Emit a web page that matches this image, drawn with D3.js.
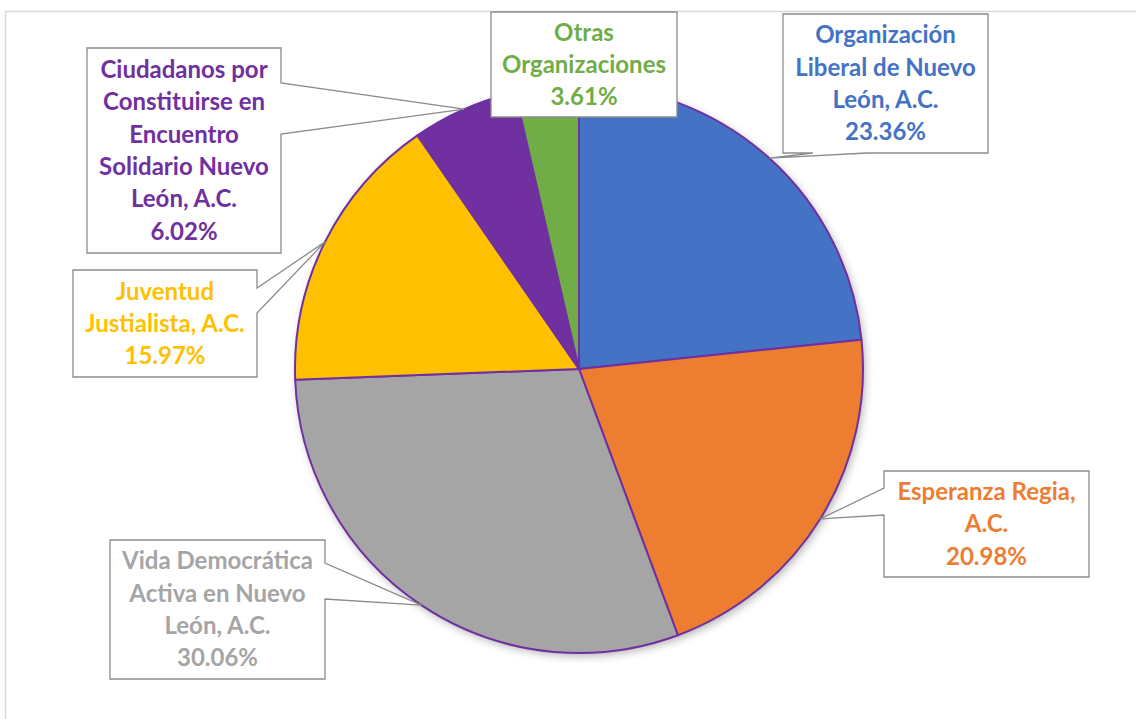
<!DOCTYPE html>
<html>
<head>
<meta charset="utf-8">
<script src="https://cdn.jsdelivr.net/npm/d3@7"></script>
<style>
  html, body { margin: 0; padding: 0; background: #fff; }
  svg { display: block; }
</style>
</head>
<body>
<svg id="chart" width="1136" height="719"></svg>
<script>
// ---- data ----
const categories = [
  "Organización Liberal de Nuevo León, A.C.",
  "Esperanza Regia, A.C.",
  "Vida Democrática Activa en Nuevo León, A.C.",
  "Juventud Justialista, A.C.",
  "Ciudadanos por Constituirse en Encuentro Solidario Nuevo León, A.C.",
  "Otras Organizaciones"
];
const values = [23.36, 20.98, 30.06, 15.97, 6.02, 3.61];
const labelLines = [
  ["Organización", "Liberal de Nuevo", "León, A.C."],
  ["Esperanza Regia,", "A.C."],
  ["Vida Democrática", "Activa en Nuevo", "León, A.C."],
  ["Juventud", "Justialista, A.C."],
  ["Ciudadanos por", "Constituirse en", "Encuentro", "Solidario Nuevo", "León, A.C."],
  ["Otras", "Organizaciones"]
];
const colors = ["#4472c4", "#ed7d31", "#a5a5a5", "#ffc000", "#7030a0", "#70ad47"];

// ---- layout (label boxes: x0,y0,x1,y1, wedge side and base offsets) ----
const boxes = [
  {x0: 783, y0: 14,  x1: 988,  y1: 153, side: "bottom", a: 813, b: 867},
  {x0: 884, y0: 471, x1: 1089, y1: 577, side: "left",   a: 488, b: 515},
  {x0: 110, y0: 540, x1: 325,  y1: 679, side: "right",  a: 563, b: 599},
  {x0: 73,  y0: 270, x1: 257,  y1: 377, side: "right",  a: 288, b: 313},
  {x0: 87,  y0: 48,  x1: 281,  y1: 253, side: "right",  a: 83,  b: 134},
  {x0: 491, y0: 12,  x1: 677,  y1: 117, side: null}
];

const svg = d3.select("#chart");
const cx = 579, cy = 369, R = 284;

// chart area border
svg.append("rect")
  .attr("x", 5.5).attr("y", 11.5).attr("width", 1200).attr("height", 800)
  .attr("fill", "#fff").attr("stroke", "#d9d9d9").attr("stroke-width", 1.5);

const defs = svg.append("defs");
const f = defs.append("filter").attr("id", "shadow")
  .attr("x", "-10%").attr("y", "-10%").attr("width", "120%").attr("height", "120%");
f.append("feDropShadow").attr("dx", 2).attr("dy", 3).attr("stdDeviation", 4)
  .attr("flood-color", "#000").attr("flood-opacity", 0.3);

const pie = d3.pie().sort(null).value(d => d)(values);
const arc = d3.arc().innerRadius(0).outerRadius(R);

const g = svg.append("g").attr("transform", `translate(${cx},${cy})`);
g.append("circle").attr("r", R).attr("fill", "#fff").attr("filter", "url(#shadow)");
g.selectAll("path.slice").data(pie).join("path")
  .attr("class", "slice")
  .attr("d", arc)
  .attr("fill", (d, i) => colors[i])
  .attr("stroke", "#7030a0")
  .attr("stroke-width", 2)
  .attr("stroke-linejoin", "round");

// callouts
const lineH = 32.3;
pie.forEach((d, i) => {
  const bx = boxes[i];
  const mid = (d.startAngle + d.endAngle) / 2;
  const tx = cx + R * Math.sin(mid), ty = cy - R * Math.cos(mid);
  let pts;
  const {x0, y0, x1, y1} = bx;
  if (bx.side === "right") {
    pts = [[x0, y0], [x1, y0], [x1, bx.a], [tx, ty], [x1, bx.b], [x1, y1], [x0, y1]];
  } else if (bx.side === "left") {
    pts = [[x0, y0], [x1, y0], [x1, y1], [x0, y1], [x0, bx.b], [tx, ty], [x0, bx.a]];
  } else if (bx.side === "bottom") {
    pts = [[x0, y0], [x1, y0], [x1, y1], [bx.b, y1], [tx, ty], [bx.a, y1], [x0, y1]];
  } else {
    pts = [[x0, y0], [x1, y0], [x1, y1], [x0, y1]];
  }
  svg.append("path")
    .attr("d", d3.line()(pts) + "Z")
    .attr("fill", "#fff")
    .attr("stroke", "#8c8c8c")
    .attr("stroke-width", 1.3)
    .attr("stroke-linejoin", "miter");

  const lines = labelLines[i].concat([d3.format(".2f")(values[i]) + "%"]);
  const ccx = (x0 + x1) / 2, ccy = (y0 + y1) / 2;
  const t = svg.append("text")
    .attr("text-anchor", "middle")
    .attr("font-family", "Lato, 'Open Sans', sans-serif")
    .attr("font-weight", "bold")
    .attr("font-size", 24)
    .attr("fill", colors[i]);
  lines.forEach((s, k) => {
    t.append("tspan")
      .attr("x", ccx)
      .attr("y", ccy + (k - (lines.length - 1) / 2) * lineH)
      .attr("dy", "0.35em")
      .text(s);
  });
});
</script>
</body>
</html>
